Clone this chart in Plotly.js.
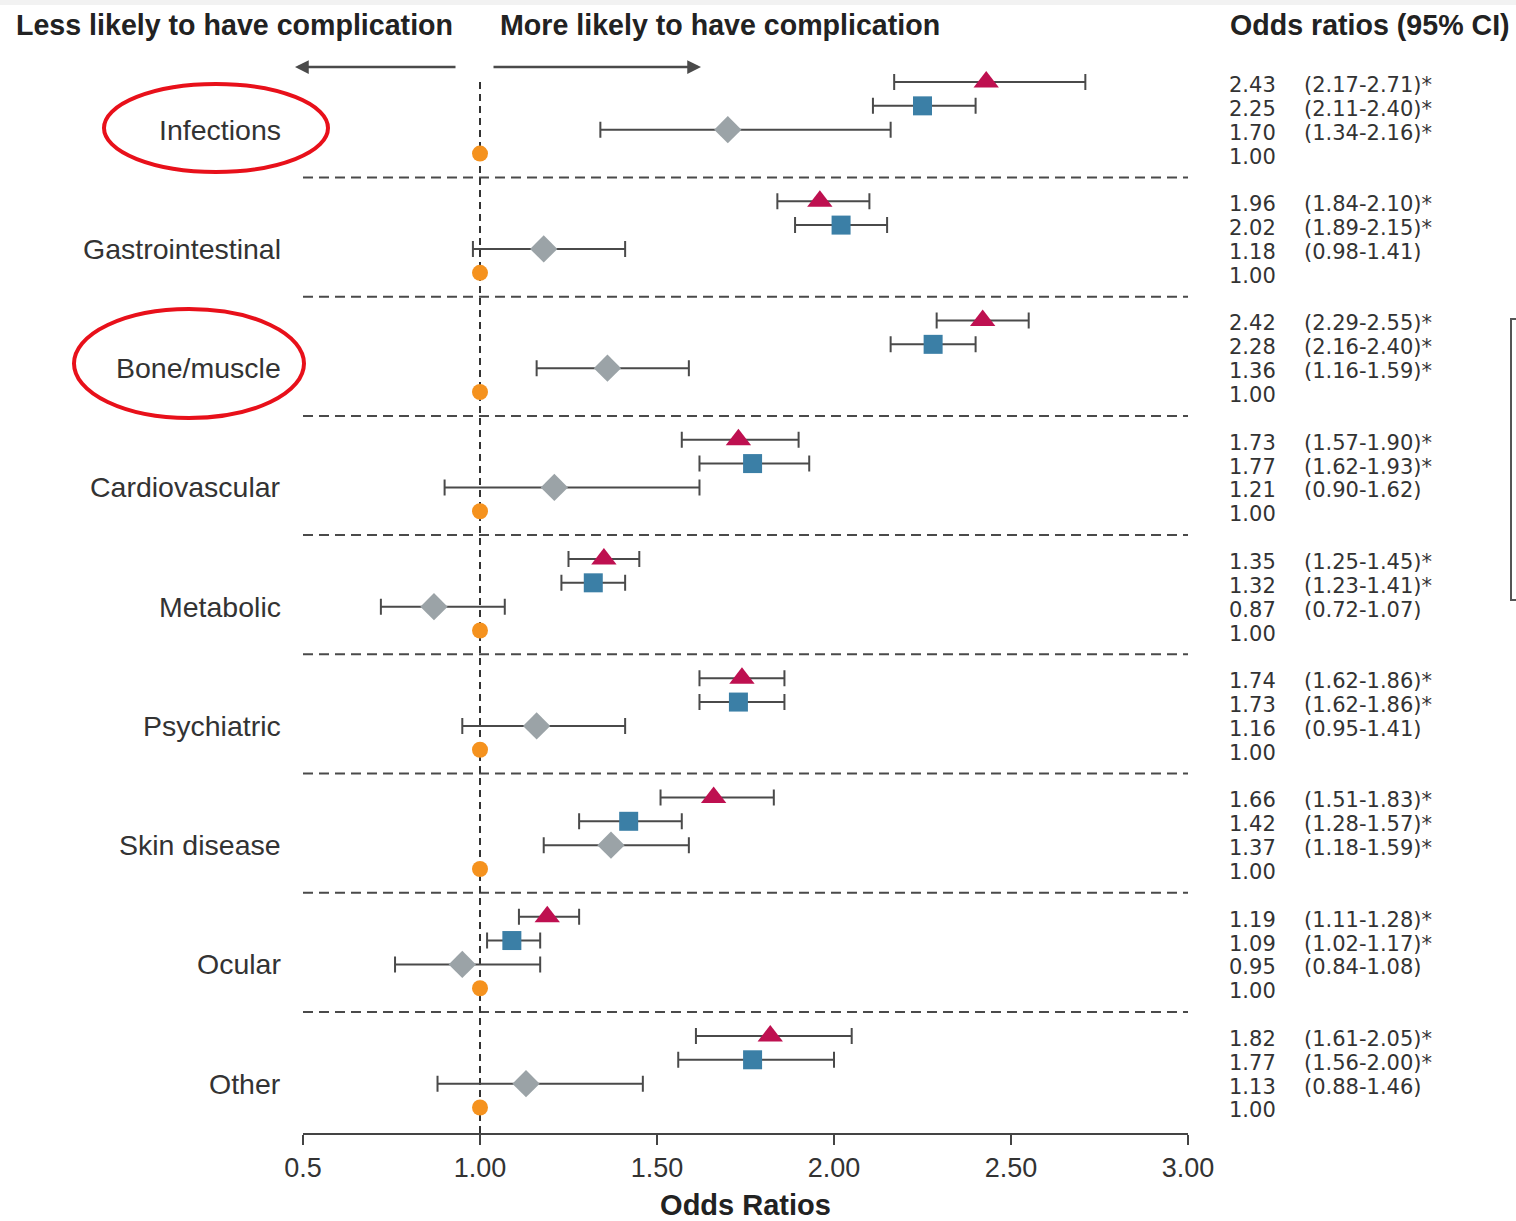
<!DOCTYPE html>
<html>
<head>
<meta charset="utf-8">
<script src="https://cdn.plot.ly/plotly-3.0.1.min.js"></script>
<style>
  html, body { margin: 0; padding: 0; background: #ffffff; }
  #chart { width: 1516px; height: 1221px; }
</style>
</head>
<body>
<div id="chart"></div>
<script>
// ---- Data ----
const categories = ["Infections", "Gastrointestinal", "Bone/muscle", "Cardiovascular",
                    "Metabolic", "Psychiatric", "Skin disease", "Ocular", "Other"];

// Series 1 (triangle): odds ratio and 95% CI
const triOR = [2.43, 1.96, 2.42, 1.73, 1.35, 1.74, 1.66, 1.19, 1.82];
const triLo = [2.17, 1.84, 2.29, 1.57, 1.25, 1.62, 1.51, 1.11, 1.61];
const triHi = [2.71, 2.10, 2.55, 1.90, 1.45, 1.86, 1.83, 1.28, 2.05];

// Series 2 (square)
const sqOR = [2.25, 2.02, 2.28, 1.77, 1.32, 1.73, 1.42, 1.09, 1.77];
const sqLo = [2.11, 1.89, 2.16, 1.62, 1.23, 1.62, 1.28, 1.02, 1.56];
const sqHi = [2.40, 2.15, 2.40, 1.93, 1.41, 1.86, 1.57, 1.17, 2.00];

// Series 3 (diamond): values printed in the table
const diOR = [1.70, 1.18, 1.36, 1.21, 0.87, 1.16, 1.37, 0.95, 1.13];
const diLo = [1.34, 0.98, 1.16, 0.90, 0.72, 0.95, 1.18, 0.84, 0.88];
const diHi = [2.16, 1.41, 1.59, 1.62, 1.07, 1.41, 1.59, 1.08, 1.46];
// Series 3 whiskers as drawn in the figure (Ocular bar is drawn wider than printed)
const diBarLo = [1.34, 0.98, 1.16, 0.90, 0.72, 0.95, 1.18, 0.76, 0.88];
const diBarHi = [2.16, 1.41, 1.59, 1.62, 1.07, 1.41, 1.59, 1.17, 1.46];

// Reference group (circle)
const refOR = [1.00, 1.00, 1.00, 1.00, 1.00, 1.00, 1.00, 1.00, 1.00];

// Axis ticks
const xTickVals = [0.5, 1.0, 1.5, 2.0, 2.5, 3.0];
const xTickText = ["0.5", "1.00", "1.50", "2.00", "2.50", "3.00"];

// Headings
const headLeft = "Less likely to have complication";
const headRight = "More likely to have complication";
const headTable = "Odds ratios (95% CI)";
const xTitle = "Odds Ratios";

// ---- Layout helpers ----
const ROWS_PER_GROUP = 5;
const rowOf = (g, r) => g * ROWS_PER_GROUP + r;
const FONT = "Liberation Sans, Arial, Helvetica, sans-serif";
const TFONT = "DejaVu Sans, Liberation Sans, Arial, sans-serif";
const TXT = "#333333";

function series(or, lo, hi, r, symbol, color, size) {
  const t = {
    type: "scatter", mode: "markers",
    x: or, y: or.map((_, g) => rowOf(g, r)),
    marker: { symbol: symbol, color: color, size: size, line: { width: 0 } },
    hoverinfo: "x", showlegend: false, cliponaxis: false
  };
  if (lo) {
    t.error_x = {
      type: "data", symmetric: false,
      array: hi.map((h, i) => +(h - or[i]).toFixed(4)),
      arrayminus: lo.map((l, i) => +(or[i] - l).toFixed(4)),
      color: "#4a4a4a", thickness: 2, width: 8
    };
  }
  return t;
}

const data = [
  series(triOR, triLo, triHi, 0, "triangle-up", "#be1050", 22),
  series(sqOR, sqLo, sqHi, 1, "square", "#3b7fa6", 19),
  series(diOR, diBarLo, diBarHi, 2, "diamond", "#9ba3a7", 21),
  series(refOR, null, null, 3, "circle", "#f5921e", 16)
];

// plot area in pixels: x 303..1188, y 50..1133
const W = 1516, H = 1221, L = 303, R = 1188, T = 50, B = 1133;
const px = x => (x - L) / (R - L);
const py = y => (B - y) / (B - T);

const annotations = [];
const shapes = [];

// Group labels
categories.forEach((c, g) => {
  annotations.push({
    xref: "paper", yref: "y", x: px(283), y: rowOf(g, 2),
    xanchor: "right", yanchor: "middle", showarrow: false,
    text: c, font: { family: FONT, size: 28.5, color: TXT }
  });
});

// Right-hand table
function fmtRow(or, lo, hi) {
  const star = (lo > 1 || hi < 1) ? "*" : "";
  return { v: or.toFixed(2), ci: "(" + lo.toFixed(2) + "-" + hi.toFixed(2) + ")" + star };
}
const tableSeries = [[triOR, triLo, triHi], [sqOR, sqLo, sqHi], [diOR, diLo, diHi]];
const TSIZE = 21;
categories.forEach((c, g) => {
  tableSeries.forEach((s, r) => {
    const f = fmtRow(s[0][g], s[1][g], s[2][g]);
    annotations.push({
      xref: "paper", yref: "y", x: px(1228), y: rowOf(g, r), yshift: -3,
      xanchor: "left", yanchor: "middle", showarrow: false, borderpad: 0,
      text: f.v, font: { family: TFONT, size: TSIZE, color: TXT }
    });
    annotations.push({
      xref: "paper", yref: "y", x: px(1303), y: rowOf(g, r), yshift: -3,
      xanchor: "left", yanchor: "middle", showarrow: false, borderpad: 0,
      text: f.ci, font: { family: TFONT, size: TSIZE, color: TXT }
    });
  });
  annotations.push({
    xref: "paper", yref: "y", x: px(1228), y: rowOf(g, 3), yshift: -3,
    xanchor: "left", yanchor: "middle", showarrow: false, borderpad: 0,
    text: refOR[g].toFixed(2), font: { family: TFONT, size: TSIZE, color: TXT }
  });
});

// Headings
annotations.push({
  xref: "paper", yref: "paper", x: px(234.5), y: py(25), xanchor: "center", yanchor: "middle",
  showarrow: false, text: "<b>" + headLeft + "</b>", font: { family: FONT, size: 28.6, color: "#222" }
});
annotations.push({
  xref: "paper", yref: "paper", x: px(719.5), y: py(25), xanchor: "center", yanchor: "middle",
  showarrow: false, text: "<b>" + headRight + "</b>", font: { family: FONT, size: 28.6, color: "#222" }
});
annotations.push({
  xref: "paper", yref: "paper", x: px(1369.5), y: py(25), xanchor: "center", yanchor: "middle",
  showarrow: false, text: "<b>" + headTable + "</b>", font: { family: FONT, size: 28.6, color: "#222" }
});

// Direction arrows
annotations.push({
  xref: "paper", yref: "paper", x: px(295), y: py(67), ax: 162, ay: 0,
  showarrow: true, text: "", arrowhead: 2, arrowsize: 1.1, arrowwidth: 2.5, arrowcolor: "#4a4a4a"
});
annotations.push({
  xref: "paper", yref: "paper", x: px(701), y: py(67), ax: -209, ay: 0,
  showarrow: true, text: "", arrowhead: 2, arrowsize: 1.1, arrowwidth: 2.5, arrowcolor: "#4a4a4a"
});

// Group separators
for (let g = 0; g < categories.length - 1; g++) {
  shapes.push({
    type: "line", xref: "paper", yref: "y", x0: 0, x1: 1, y0: rowOf(g, 4), y1: rowOf(g, 4),
    line: { color: "#4a4a4a", width: 2, dash: "10px,6px" }, layer: "below"
  });
}
// Reference line at OR = 1
shapes.push({
  type: "line", xref: "x", yref: "paper", x0: 1, x1: 1, y0: 0, y1: py(80),
  line: { color: "#333", width: 2, dash: "7px,5px" }, layer: "below"
});
// Red highlight ellipses
shapes.push({
  type: "circle", xref: "paper", yref: "paper", x0: px(104), x1: px(328), y0: py(84), y1: py(172),
  line: { color: "#e8101a", width: 4 }
});
shapes.push({
  type: "circle", xref: "paper", yref: "paper", x0: px(74), x1: px(304), y0: py(309), y1: py(418),
  line: { color: "#e8101a", width: 4 }
});
// Partially visible box at the right edge
shapes.push({
  type: "rect", xref: "paper", yref: "paper", x0: px(1511), x1: px(1560), y0: py(319), y1: py(600),
  line: { color: "#555", width: 2 }
});
// faint top band
shapes.push({
  type: "rect", xref: "paper", yref: "paper", x0: px(0), x1: px(1516), y0: py(0), y1: py(5),
  fillcolor: "#f2f2f2", line: { width: 0 }, layer: "below"
});

const layout = {
  width: W, height: H,
  margin: { l: L, r: W - R, t: T, b: H - B, pad: 0 },
  paper_bgcolor: "#ffffff", plot_bgcolor: "#ffffff",
  showlegend: false,
  font: { family: FONT, color: TXT },
  xaxis: {
    range: [0.5, 3.0], tickmode: "array", tickvals: xTickVals, ticktext: xTickText,
    ticks: "outside", ticklen: 10, tickwidth: 2, tickcolor: "#444",
    showline: true, linecolor: "#444", linewidth: 2,
    showgrid: false, zeroline: false,
    tickfont: { family: FONT, size: 27, color: TXT },
    title: { text: "<b>" + xTitle + "</b>", font: { family: FONT, size: 29, color: "#222" }, standoff: 19 }
  },
  yaxis: {
    range: [44.07, -1.342], showgrid: false, zeroline: false, showline: false,
    showticklabels: false, ticks: ""
  },
  annotations: annotations,
  shapes: shapes
};

Plotly.newPlot("chart", data, layout, { staticPlot: true, displayModeBar: false });
</script>
</body>
</html>
